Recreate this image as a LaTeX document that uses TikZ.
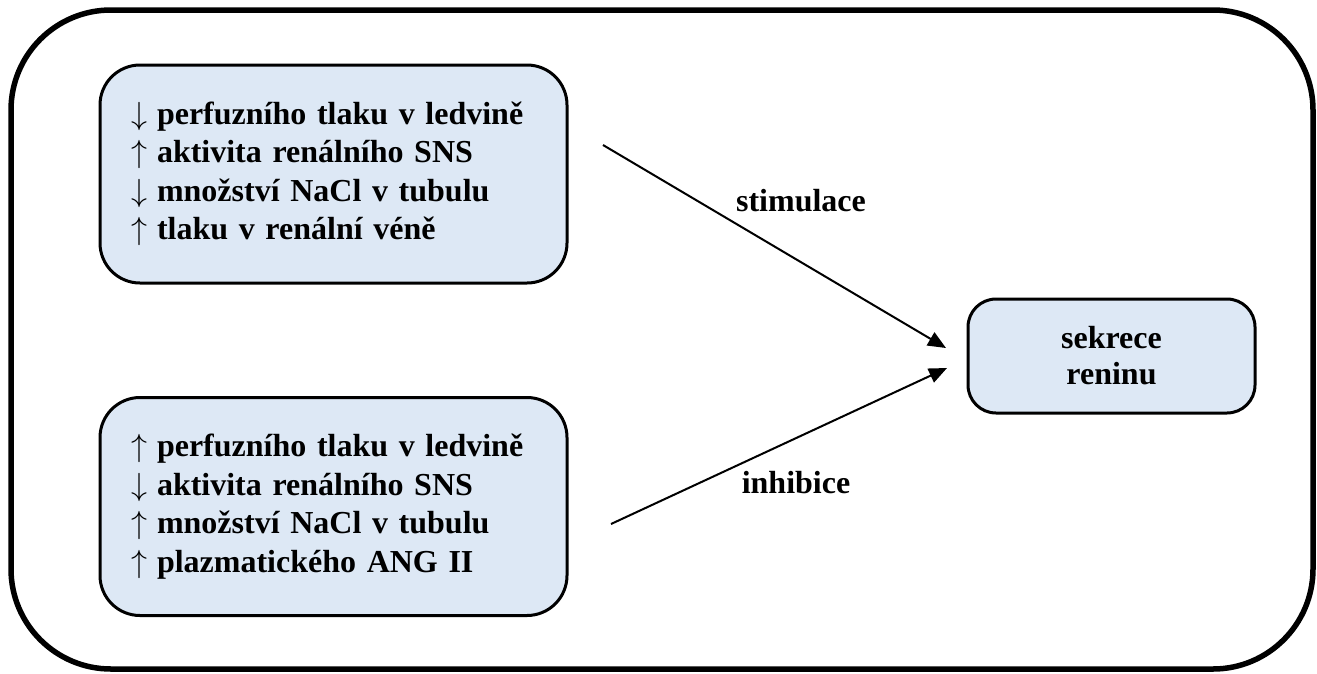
\documentclass[tikz,border=0pt]{standalone}
\usepackage{graphicx}
\usepackage{fontspec}
\setmainfont{Liberation Serif}
\usetikzlibrary{arrows.meta}
\definecolor{boxfill}{HTML}{DDE8F5}
% thin tall arrows in front of each item
\newcommand\arrdown{\scalebox{3.2}{\normalsize$\downarrow$}\hspace{10pt}}
\newcommand\arrup{\scalebox{3.2}{\normalsize$\uparrow$}\hspace{10pt}}
\begin{document}
\begin{tikzpicture}[x=1pt,y=-1pt,
  txt/.style={font=\fontsize{32}{38.5}\selectfont\bfseries},
  causebox/.style={txt, draw=black, line width=3pt, fill=boxfill,
    rounded corners=40pt, minimum width=467pt, minimum height=218pt,
    inner xsep=0pt, inner ysep=0pt, text width=405pt, align=left},
  targetbox/.style={txt, draw=black, line width=3pt, fill=boxfill,
    rounded corners=28pt, minimum width=287pt, minimum height=114pt,
    align=center, font=\fontsize{32}{36}\selectfont\bfseries},
  link/.style={line width=2pt, -{Triangle[length=18pt,width=15pt]}},
  lbl/.style={txt, anchor=base, inner sep=0pt}]
\useasboundingbox (0,0) rectangle (1317,673);
% outer frame
\draw[line width=5.5pt, rounded corners=100pt] (11,10) rectangle (1313,669);
% boxes
\node[causebox] (stim) at (333.5,174)
  {\arrdown perfuzního tlaku v ledvině\\\arrup aktivita renálního SNS\\\arrdown množství NaCl v tubulu\\\arrup tlaku v renální véně};
\node[causebox] (inhib) at (333.5,506.5)
  {\arrup perfuzního tlaku v ledvině\\\arrdown aktivita renálního SNS\\\arrup množství NaCl v tubulu\\\arrup plazmatického ANG II};
\node[targetbox] (renin) at (1111.5,356) {sekrece\\reninu};
% connectors
\coordinate (s0) at (603,145);
\coordinate (s1) at (946,348);
\coordinate (i0) at (611,524);
\coordinate (i1) at (947,368);
\draw[link] (s0) -- (s1);
\draw[link] (i0) -- (i1);
\node[lbl] (slbl) at (801,211) {stimulace};
\node[lbl] (ilbl) at (796,493) {inhibice};
\end{tikzpicture}
\end{document}
